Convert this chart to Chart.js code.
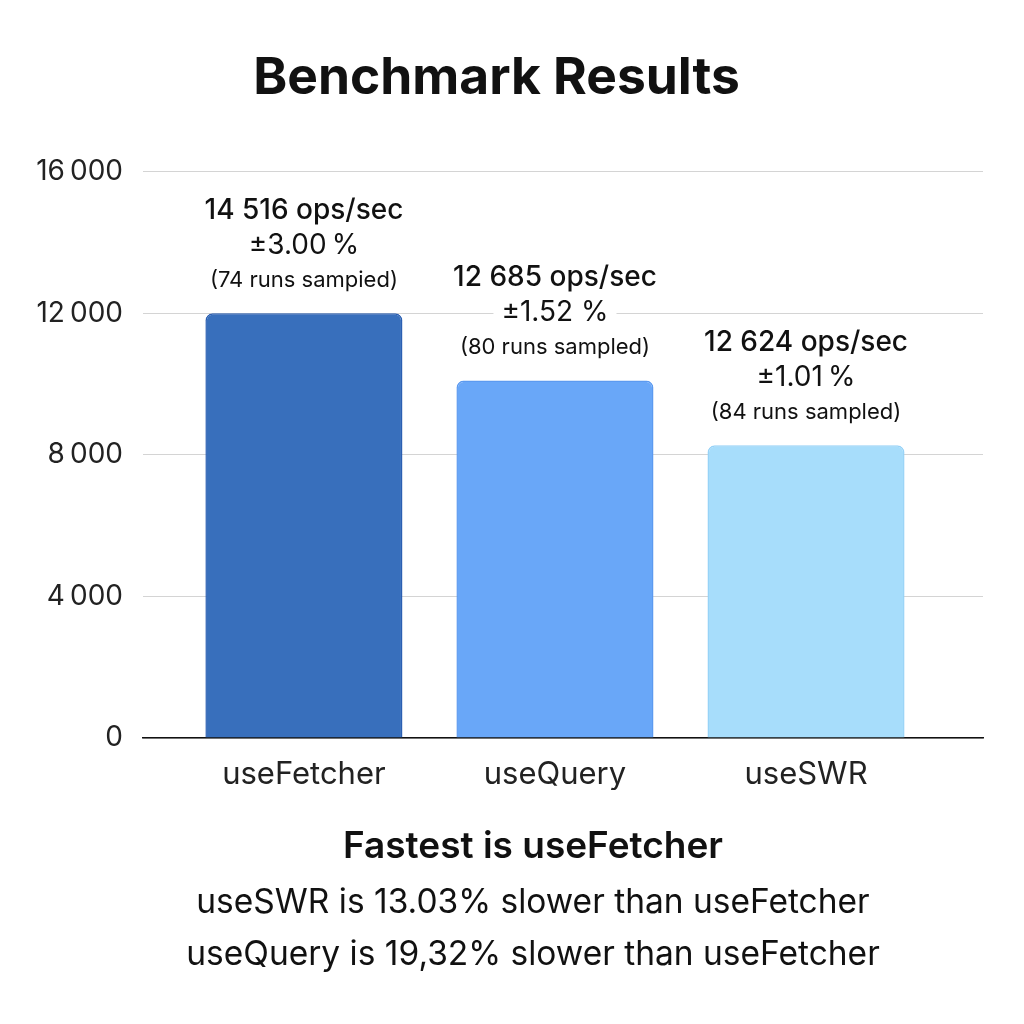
<!DOCTYPE html>
<html>
<head>
<meta charset="utf-8">
<script src="https://cdn.jsdelivr.net/npm/chart.js@4"></script>
<style>
  html, body { margin: 0; padding: 0; background: #ffffff; }
  #wrap { width: 1024px; height: 1024px; }
</style>
</head>
<body>
<div id="wrap"><canvas id="c" width="1024" height="1024"></canvas></div>
<script>
const categories = ['useFetcher', 'useQuery', 'useSWR'];
const values = [12000, 10100, 8270];
const opsLabels = ['14 516 ops/sec', '12 685 ops/sec', '12 624 ops/sec'];
const marginLabels = ['\u00B13.00\u2009%', '\u00B11.52 %', '\u00B11.01\u2009%'];
const runLabels = ['(74 runs sampied)', '(80 runs sampled)', '(84 runs sampled)'];
const yTicks = [0, 4000, 8000, 12000, 16000];
const summaryTitle = 'Fastest is useFetcher';
const summaryLines = ['useSWR is 13.03% slower than useFetcher', 'useQuery is 19,32% slower than useFetcher'];

const fillColors = ['#386fbc', '#69a7f8', '#a7ddfb'];
const borderColors = ['#2b5fb2', '#5c9af0', '#97d2f7'];
const FONT = 'Inter, "Noto Sans", sans-serif';

const barLabelPlugin = {
  id: 'barLabels',
  afterDatasetsDraw(chart) {
    const ctx = chart.ctx;
    const meta = chart.getDatasetMeta(0);
    ctx.save();
    ctx.textAlign = 'center';
    ctx.textBaseline = 'middle';
    meta.data.forEach((bar, i) => {
      const lines = [
        { t: opsLabels[i], f: '500 28px ' + FONT, dy: 103 },
        { t: marginLabels[i], f: '400 28px ' + FONT, dy: 68 },
        { t: runLabels[i], f: '400 22px ' + FONT, dy: 33 }
      ];
      lines.forEach(l => {
        ctx.font = l.f;
        const w = ctx.measureText(l.t).width;
        ctx.fillStyle = '#ffffff';
        ctx.fillRect(bar.x - w / 2 - 8, bar.y - l.dy - 14, w + 16, 28);
        ctx.fillStyle = '#111111';
        ctx.fillText(l.t, bar.x, bar.y - l.dy);
      });
    });
    ctx.restore();
  }
};

const summaryPlugin = {
  id: 'summary',
  afterDraw(chart) {
    const ctx = chart.ctx;
    const cx = chart.width / 2 + 21;
    const base = chart.chartArea.bottom;
    ctx.save();
    ctx.textAlign = 'center';
    ctx.textBaseline = 'middle';
    ctx.fillStyle = '#111111';
    ctx.font = '600 37px ' + FONT;
    ctx.fillText(summaryTitle, cx, base + 109);
    ctx.font = '400 33.5px ' + FONT;
    summaryLines.forEach((t, i) => {
      ctx.fillText(t, cx, base + 165 + i * 52);
    });
    ctx.restore();
  }
};

new Chart(document.getElementById('c'), {
  type: 'bar',
  data: {
    datasets: [{
      data: values.map((v, i) => ({ x: i, y: v })),
      backgroundColor: fillColors,
      borderColor: borderColors,
      borderWidth: 1.5,
      borderSkipped: 'bottom',
      borderRadius: { topLeft: 7, topRight: 7, bottomLeft: 0, bottomRight: 0 },
      barPercentage: 0.785,
      categoryPercentage: 1
    }]
  },
  options: {
    responsive: false,
    animation: false,
    devicePixelRatio: 1,
    layout: { padding: { top: 0, left: 10, right: 41, bottom: 234 } },
    plugins: {
      legend: { display: false },
      tooltip: { enabled: false },
      title: {
        display: true,
        text: 'Benchmark Results',
        color: '#111111',
        font: { family: FONT, size: 51.5, weight: 'bold' },
        padding: { top: 48, bottom: 62 }
      }
    },
    scales: {
      x: {
        type: 'linear',
        offset: false,
        min: -0.641,
        max: 2.705,
        afterBuildTicks(scale) {
          scale.ticks = categories.map((c, i) => ({ value: i }));
        },
        afterFit(scale) { scale.height = 52; },
        ticks: {
          padding: 18,
          color: '#222222',
          font: { family: FONT, size: 31 },
          callback: (v) => categories[v]
        },
        grid: { display: false, drawTicks: false },
        border: { display: true, color: '#111111', width: 1.5 }
      },
      y: {
        min: 0,
        max: 16000,
        afterBuildTicks(scale) {
          scale.ticks = yTicks.map(v => ({ value: v }));
        },
        afterFit(scale) { scale.width = 133; },
        ticks: {
          padding: 20,
          color: '#222222',
          font: { family: FONT, size: 28 },
          callback: (v) => v >= 1000 ? Math.floor(v / 1000) + '\u2009' + String(v % 1000).padStart(3, '0') : String(v)
        },
        grid: { color: '#d4d4d4', lineWidth: 1, drawTicks: false },
        border: { display: false }
      }
    }
  },
  plugins: [barLabelPlugin, summaryPlugin]
});
</script>
</body>
</html>
